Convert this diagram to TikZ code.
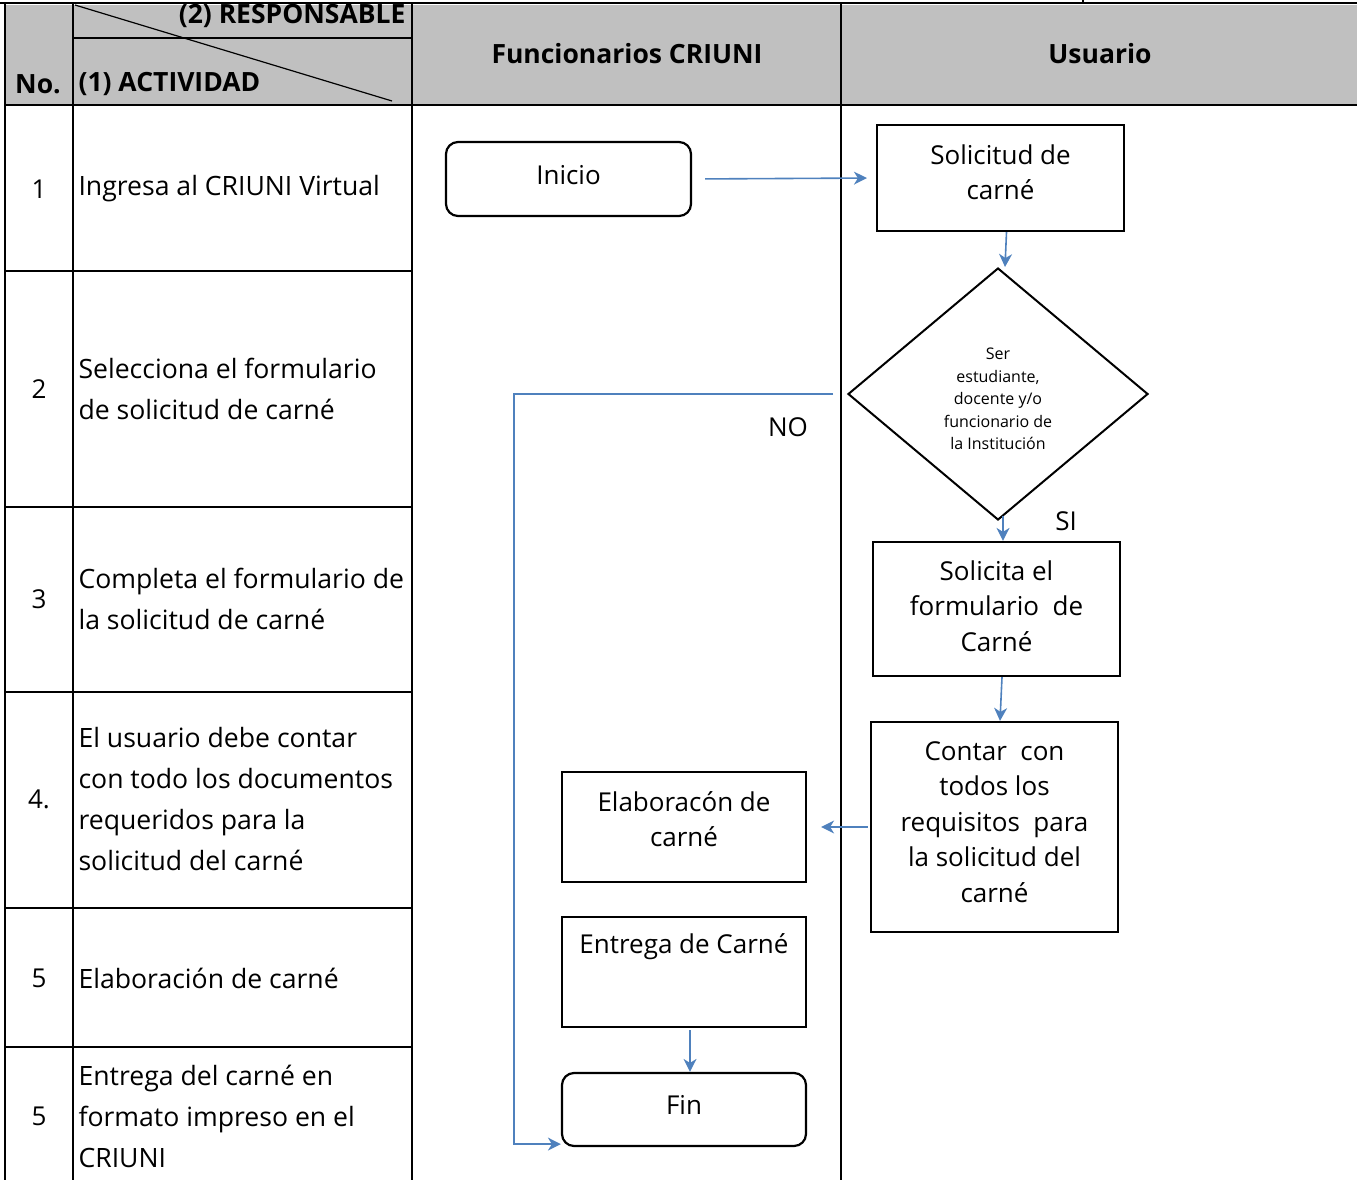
\documentclass[tikz,border=0pt]{standalone}
\usepackage{fontspec}
\setmainfont{Open Sans}
\usetikzlibrary{shapes.geometric,arrows.meta}
\definecolor{grisenc}{HTML}{C0C0C0}
\definecolor{azulflecha}{HTML}{4F81BD}
\tikzset{
  linea/.style={line width=2.6pt},
  caja/.style={draw, line width=2.2pt, minimum width=245pt, inner sep=0pt},
  terminal/.style={caja, rounded corners=12pt},
  decision/.style={draw, diamond, line width=2pt, minimum width=300pt, minimum height=252pt, inner sep=0pt},
  rotulo/.style={align=center},
  flecha/.style={draw=azulflecha, line width=1.6pt, -{Stealth[length=13pt,width=13pt,inset=4pt]}},
  encab/.style={font=\fontsize{26.5}{30}\selectfont\bfseries},
  actividad/.style={anchor=west, align=left, font=\fontsize{26.6}{41}\selectfont}
}
\begin{document}
\begin{tikzpicture}[x=1pt, y=-1pt, every node/.style={font=\fontsize{26}{35.5}\selectfont}]
  \useasboundingbox (0,0) rectangle (1357,1180);
  % header
  \fill[grisenc] (5,5) rectangle (1357,105);
  \draw[line width=2pt] (0,3) -- (1357,3);
  \draw[line width=2pt] (1083,0) -- (1083,3);
  \foreach \x in {5,73,412,841}
    \draw[linea] (\x,3) -- (\x,1180);
  \draw[linea] (5,105) -- (1357,105);
  \draw[linea] (73,38) -- (412,38);
  \draw[line width=1.2pt] (75,5) -- (392,101);
  \node[encab] (hno) at (38,84) {No.};
  \node[encab, anchor=west] (hact) at (75,84) {(1) ACTIVIDAD};
  \node[encab, anchor=east] (hresp) at (409,16) {(2) RESPONSABLE};
  \node[encab] (hfun) at (627,54) {Funcionarios CRIUNI};
  \node[encab] (husu) at (1100,54) {Usuario};
  % activity rows
  \foreach \y in {271,507,692,908,1047}
    \draw[linea] (5,\y) -- (412,\y);
  \foreach \y/\num/\texto [count=\i] in {189/1/{Ingresa al CRIUNI Virtual},
      389/2/{Selecciona el formulario\\de solicitud de carné},
      599/3/{Completa el formulario de\\la solicitud de carné},
      799/4./{El usuario debe contar\\con todo los documentos\\requeridos para la\\solicitud del carné},
      978/5/{Elaboración de carné},
      1116/5/{Entrega del carné en\\formato impreso en el\\CRIUNI}} {
    \node (num\i) at (39,\y) {\num};
    \node[actividad] (act\i) at (75,\y) {\texto};
  }
  % flow: usuario
  \node[terminal, minimum height=74pt] (inicio) at (568.5,179) {};
  \node[rotulo] (inicio-t) at ([yshift=4pt]inicio) {Inicio};
  \node[caja, minimum width=247pt, minimum height=106pt] (solicitud) at (1000.5,178) {};
  \node[rotulo] (solicitud-t) at ([yshift=6pt]solicitud) {Solicitud de\\carné};
  \node[decision] (diamante) at (998,394) {};
  \node[rotulo, font=\fontsize{16}{22.6}\selectfont] (diamante-t) at ([yshift=-5pt]diamante)
    {Ser\\estudiante,\\docente y/o\\funcionario de\\la Institución};
  \node[caja, minimum width=247pt, minimum height=134pt] (solicita) at (996.5,609) {};
  \node[rotulo] (solicita-t) at ([yshift=3pt]solicita) {Solicita el\\formulario\ \ de\\Carné};
  \node[fill=white, minimum width=64pt, minimum height=40pt, inner sep=0pt] (si) at (1066,521) {SI};
  \node[caja, minimum width=247pt, minimum height=210pt] (contar) at (994.5,827) {};
  \node[rotulo] (contar-t) at ([yshift=5pt]contar) {Contar\ \ con\\todos los\\requisitos\ \ para\\la solicitud del\\carné};
  % flow: funcionarios
  \node[caja, minimum width=244pt, minimum height=110pt] (elabora) at (684,827) {};
  \node[rotulo] (elabora-t) at ([yshift=8pt]elabora) {Elaboracón de\\carné};
  \node[caja, minimum width=244pt, minimum height=110pt] (entrega) at (684,972) {};
  \node[rotulo, below=14pt] (entrega-t) at (entrega.north) {Entrega de Carné};
  \node[terminal, minimum width=244pt, minimum height=73pt] (fin) at (684,1109.5) {};
  \node[rotulo] (fin-t) at ([yshift=5pt]fin) {Fin};
  \node (no) at (788,427) {NO};
  \coordinate (codo) at (514,394);
  % connectors
  \draw[flecha, shorten <=13pt, shorten >=9pt] (inicio.east) -- (solicitud.west);
  \draw[flecha] ([xshift=6pt]solicitud.south) -- ([xshift=7pt]diamante.north);
  \draw[flecha] ([xshift=5pt,yshift=5pt]diamante.south) -- ([xshift=6.5pt]solicita.north);
  \draw[flecha] ([xshift=5.5pt]solicita.south) -- ([xshift=5.5pt]contar.north);
  \draw[flecha, shorten <=2pt, shorten >=14pt] (contar.west) -- (elabora.east);
  \draw[flecha, shorten <=2pt] ([xshift=6pt]entrega.south) -- ([xshift=6pt]fin.north);
  \draw[flecha] ([xshift=-14pt]diamante.west) -- (codo) |- ([yshift=3pt]fin.south west);
\end{tikzpicture}
\end{document}
